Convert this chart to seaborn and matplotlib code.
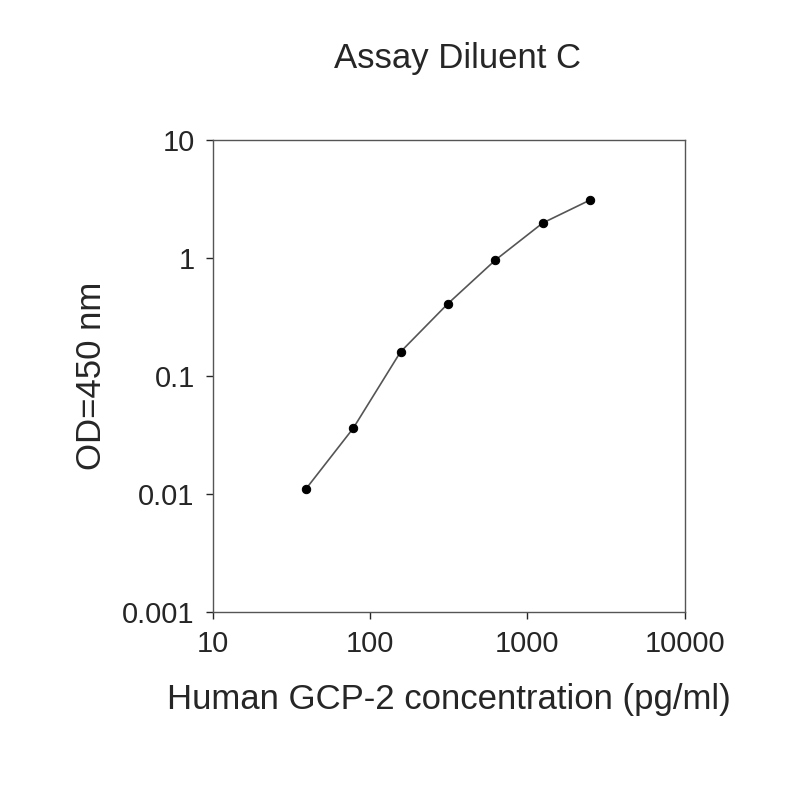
import matplotlib
matplotlib.use("Agg")
import matplotlib.pyplot as plt
import seaborn as sns
import pandas as pd
from matplotlib.ticker import FixedLocator, FixedFormatter, NullLocator

conc = [39, 78, 156, 312, 625, 1250, 2500]
od = [0.011, 0.036, 0.16, 0.41, 0.96, 1.98, 3.1]
xticks = [10, 100, 1000, 10000]
xlabels = ["10", "100", "1000", "10000"]
yticks = [0.001, 0.01, 0.1, 1, 10]
ylabels = ["0.001", "0.01", "0.1", "1", "10"]

sns.set_style("white")
plt.rcParams['font.family'] = ['Liberation Sans', 'DejaVu Sans']
df = pd.DataFrame({"conc": conc, "od": od})
fig = plt.figure(figsize=(8, 8), dpi=100)
ax = fig.add_axes([0.266, 0.235, 0.59, 0.59])
sns.lineplot(data=df, x="conc", y="od", ax=ax, color="#555555", lw=1.2,
             marker="o", markersize=6, markerfacecolor="black", markeredgecolor="black")
ax.set_xscale("log"); ax.set_yscale("log")
ax.set_xlim(10, 10000); ax.set_ylim(0.001, 10)
ax.xaxis.set_major_locator(FixedLocator(xticks)); ax.xaxis.set_major_formatter(FixedFormatter(xlabels))
ax.yaxis.set_major_locator(FixedLocator(yticks)); ax.yaxis.set_major_formatter(FixedFormatter(ylabels))
ax.xaxis.set_minor_locator(NullLocator()); ax.yaxis.set_minor_locator(NullLocator())
ax.tick_params(axis="both", labelsize=21, length=5, width=1, direction="out", bottom=True, left=True, pad=8)
for s in ax.spines.values():
    s.set_color("#555555"); s.set_linewidth(1)
ax.set_xlabel("Human GCP-2 concentration (pg/ml)", fontsize=25, labelpad=18)
ax.set_ylabel("OD=450 nm", fontsize=25, labelpad=10)
fig.text(0.572, 0.927, "Assay Diluent C", fontsize=25, ha="center", va="center")
fig.savefig("out.png", dpi=100)
